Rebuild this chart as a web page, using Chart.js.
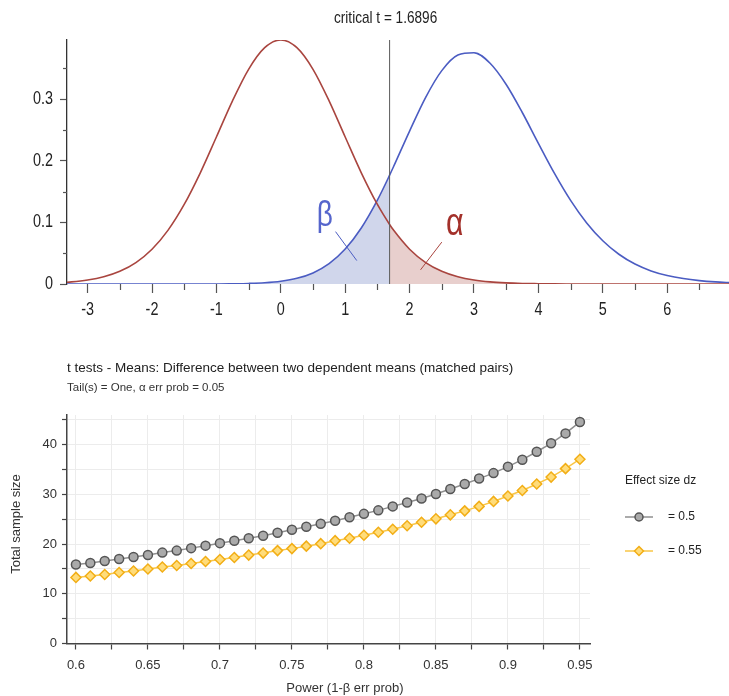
<!DOCTYPE html>
<html lang="en">
<head>
  <meta charset="UTF-8" />
  <title>critical t = 1.6896</title>
  <script src="https://cdn.jsdelivr.net/npm/chart.js"></script>
  <style>
    html, body { margin: 0; padding: 0; background: #fff; overflow: hidden; }
    #wrap { position: relative; width: 729px; height: 696px; }
    #distChart { position: absolute; left: 0; top: 0; }
    #powerChart { position: absolute; left: 0; top: 340px; }
  </style>
</head>
<body>
  <div id="wrap">
    <canvas id="distChart" width="729" height="330"></canvas>
    <canvas id="powerChart" width="729" height="356"></canvas>
  </div>

  <script>
    // ---- top: central / noncentral t densities (df = 35) ----
    const tGrid = [-3.5, -3.25, -3, -2.75, -2.5, -2.25, -2, -1.75, -1.5, -1.25, -1, -0.75, -0.5, -0.25,
      0, 0.25, 0.5, 0.75, 1, 1.25, 1.5, 1.75, 2, 2.25, 2.5, 2.75, 3, 3.25, 3.5, 3.75,
      4, 4.25, 4.5, 4.75, 5, 5.25, 5.5, 5.75, 6, 6.25, 6.5, 6.75, 7];
    const h0Density = [0.0018, 0.0034, 0.0064, 0.0117, 0.0206, 0.0348, 0.0565, 0.0875, 0.1291, 0.1805, 0.2386, 0.2973, 0.3485, 0.3836,
      0.3961, 0.3836, 0.3485, 0.2973, 0.2386, 0.1805, 0.1291, 0.0875, 0.0565, 0.0348, 0.0206, 0.0117, 0.0064, 0.0034, 0.0018, 0.0009,
      0.0005, 0.0002, 0.0001, 0.0001, 0, 0, 0, 0, 0, 0, 0, 0, 0];
    const h1Density = [0, 0, 0, 0, 0, 0, 0, 0, 0, 0.0001, 0.0001, 0.0004, 0.0009, 0.0020,
      0.0044, 0.0092, 0.0180, 0.0330, 0.0567, 0.0909, 0.1361, 0.1903, 0.2483, 0.3031, 0.3464, 0.3717, 0.3755, 0.3583, 0.3239, 0.2784,
      0.2284, 0.1796, 0.1358, 0.0992, 0.0702, 0.0483, 0.0324, 0.0213, 0.0138, 0.0088, 0.0055, 0.0034, 0.0021];
    const critT = 1.6896;
    const h0AtCrit = 0.0966;
    const h1AtCrit = 0.1766;
    const densityMax = 0.3961;

    // ---- bottom: total sample size vs power ----
    const power = [0.60, 0.61, 0.62, 0.63, 0.64, 0.65, 0.66, 0.67, 0.68, 0.69, 0.70, 0.71, 0.72, 0.73, 0.74, 0.75, 0.76, 0.77,
      0.78, 0.79, 0.80, 0.81, 0.82, 0.83, 0.84, 0.85, 0.86, 0.87, 0.88, 0.89, 0.90, 0.91, 0.92, 0.93, 0.94, 0.95];
    const nDz050 = [15.9, 16.2, 16.6, 17.0, 17.4, 17.8, 18.3, 18.7, 19.2, 19.7, 20.2, 20.7, 21.2, 21.7, 22.3, 22.9, 23.5, 24.1,
      24.7, 25.4, 26.1, 26.8, 27.6, 28.4, 29.2, 30.1, 31.1, 32.1, 33.2, 34.3, 35.6, 37.0, 38.6, 40.3, 42.3, 44.6];
    const nDz055 = [13.3, 13.6, 13.9, 14.3, 14.6, 15.0, 15.4, 15.7, 16.1, 16.5, 16.9, 17.3, 17.8, 18.2, 18.7, 19.1, 19.6, 20.1,
      20.7, 21.2, 21.8, 22.4, 23.0, 23.7, 24.4, 25.1, 25.9, 26.7, 27.6, 28.6, 29.7, 30.8, 32.1, 33.5, 35.2, 37.1];
    const effectLabels = ['= 0.5', '= 0.55'];

    const SANS = "'Liberation Sans', Arial, Helvetica, sans-serif";
    const SQUEEZE = 0.8; // the top panel uses a condensed face

    const RED = '#a9453f';
    const BLUE = '#4b5cc2';

    function curvePoints(dens, atCrit) {
      const pts = tGrid.map((t, i) => ({ x: t, y: dens[i] }));
      pts.push({ x: critT, y: atCrit });
      pts.sort((a, b) => a.x - b.x);
      return pts;
    }
    const h0Points = curvePoints(h0Density, h0AtCrit);
    const h1Points = curvePoints(h1Density, h1AtCrit);
    const betaArea = h1Points.filter(p => p.x <= critT);
    const alphaArea = h0Points.filter(p => p.x >= critT);

    function isMult(v, step) {
      const r = v / step;
      return Math.abs(r - Math.round(r)) < 1e-6;
    }
    function fmt(v) {
      return String(parseFloat(v.toFixed(3)));
    }

    // condensed text: squeeze horizontally around the anchor
    function narrowText(ctx, text, x, y, size, align) {
      ctx.save();
      ctx.font = size + 'px ' + SANS;
      ctx.textAlign = align;
      ctx.translate(x, y);
      ctx.scale(SQUEEZE, 1);
      ctx.fillText(text, 0, 0);
      ctx.restore();
    }

    // minor ticks, tick labels and annotations for the top chart
    const distDecor = {
      id: 'distDecor',
      afterDraw(chart) {
        const { ctx, scales: { x, y }, chartArea } = chart;
        ctx.save();
        ctx.strokeStyle = '#555';
        ctx.lineWidth = 1.2;
        for (let v = -3.5; v <= 7; v += 1) {
          if (v < x.min || v > x.max) continue;
          const px = Math.round(x.getPixelForValue(v)) + 0.5;
          ctx.beginPath();
          ctx.moveTo(px, chartArea.bottom);
          ctx.lineTo(px, chartArea.bottom + 6);
          ctx.stroke();
        }
        [0.05, 0.15, 0.25, 0.35].forEach(v => {
          const py = Math.round(y.getPixelForValue(v)) + 0.5;
          ctx.beginPath();
          ctx.moveTo(chartArea.left, py);
          ctx.lineTo(chartArea.left - 4, py);
          ctx.stroke();
        });

        // tick labels
        ctx.fillStyle = '#222';
        ctx.textBaseline = 'middle';
        x.ticks.forEach(t => narrowText(ctx, String(t.value), x.getPixelForValue(t.value), chartArea.bottom + 26, 18, 'center'));
        y.ticks.forEach(t => narrowText(ctx, t.value === 0 ? '0' : t.value.toFixed(1),
          chartArea.left - 14, y.getPixelForValue(t.value), 18, 'right'));

        // title above the critical line
        narrowText(ctx, 'critical t = ' + critT.toFixed(4), x.getPixelForValue(critT) - 4, 18, 17, 'center');

        // beta / alpha labels with leader lines
        ctx.lineWidth = 1;
        ctx.strokeStyle = BLUE;
        ctx.beginPath();
        ctx.moveTo(x.getPixelForValue(0.85), y.getPixelForValue(0.085));
        ctx.lineTo(x.getPixelForValue(1.18), y.getPixelForValue(0.038));
        ctx.stroke();
        ctx.strokeStyle = RED;
        ctx.beginPath();
        ctx.moveTo(x.getPixelForValue(2.50), y.getPixelForValue(0.068));
        ctx.lineTo(x.getPixelForValue(2.17), y.getPixelForValue(0.023));
        ctx.stroke();

        ctx.textBaseline = 'alphabetic';
        ctx.fillStyle = '#5565cc';
        narrowText(ctx, 'β', x.getPixelForValue(0.683), y.getPixelForValue(0.094), 35, 'center');
        ctx.fillStyle = '#a3302a';
        narrowText(ctx, 'α', x.getPixelForValue(2.70), y.getPixelForValue(0.080), 38, 'center');
        ctx.restore();
      }
    };

    new Chart(document.getElementById('distChart'), {
      type: 'line',
      data: {
        datasets: [
          { data: [{ x: critT, y: 0 }, { x: critT, y: densityMax }], borderColor: '#5a5a5a', borderWidth: 1, pointRadius: 0, fill: false },
          { data: h0Points, borderColor: RED, borderWidth: 1.6, pointRadius: 0, fill: false, cubicInterpolationMode: 'monotone' },
          { data: h1Points, borderColor: BLUE, borderWidth: 1.6, pointRadius: 0, fill: false, cubicInterpolationMode: 'monotone' },
          { data: alphaArea, borderWidth: 0, pointRadius: 0, fill: 'origin', backgroundColor: 'rgba(200,140,135,0.42)', cubicInterpolationMode: 'monotone' },
          { data: betaArea, borderWidth: 0, pointRadius: 0, fill: 'origin', backgroundColor: 'rgba(150,165,210,0.45)', cubicInterpolationMode: 'monotone' }
        ]
      },
      options: {
        responsive: false,
        animation: false,
        devicePixelRatio: 1,
        layout: { padding: { top: 40, right: 0, left: 0, bottom: 0 } },
        plugins: { legend: { display: false }, tooltip: { enabled: false }, title: { display: false } },
        scales: {
          x: {
            type: 'linear',
            min: -3.32,
            max: 6.96,
            border: { display: false },
            grid: { drawOnChartArea: false, drawTicks: true, tickLength: 9, tickColor: '#555', tickWidth: 1.2 },
            ticks: { stepSize: 1, includeBounds: false, autoSkip: false, maxRotation: 0, callback: () => '' },
            afterFit: s => { s.height = 46; s.paddingLeft = 0; s.paddingRight = 0; }
          },
          y: {
            min: 0,
            max: densityMax,
            border: { display: true, color: '#333', width: 1.3 },
            grid: { drawOnChartArea: false, drawTicks: true, tickLength: 7, tickColor: '#555', tickWidth: 1.2 },
            ticks: { stepSize: 0.1, includeBounds: false, autoSkip: false, callback: () => '' },
            afterFit: s => { s.width = 67; s.paddingTop = 0; s.paddingBottom = 0; }
          }
        }
      },
      plugins: [distDecor]
    });

    // titles, axis titles and legend for the bottom chart
    function drawMarker(ctx, style, x, y, r) {
      ctx.beginPath();
      if (style === 'circle') {
        ctx.arc(x, y, r, 0, Math.PI * 2);
      } else {
        ctx.moveTo(x, y - r);
        ctx.lineTo(x + r, y);
        ctx.lineTo(x, y + r);
        ctx.lineTo(x - r, y);
        ctx.closePath();
      }
      ctx.fill();
      ctx.stroke();
    }

    const powerDecor = {
      id: 'powerDecor',
      afterDraw(chart) {
        const { ctx, chartArea } = chart;
        ctx.save();
        ctx.fillStyle = '#222';
        ctx.textAlign = 'left';
        ctx.textBaseline = 'middle';
        ctx.font = '13.5px ' + SANS;
        ctx.fillText('t tests - Means: Difference between two dependent means (matched pairs)', chartArea.left, chartArea.top - 47);
        ctx.font = '11.5px ' + SANS;
        ctx.fillStyle = '#333';
        ctx.fillText('Tail(s) = One, α err prob = 0.05', chartArea.left, chartArea.top - 27);

        // axis titles
        ctx.fillStyle = '#333';
        ctx.font = '13px ' + SANS;
        ctx.textAlign = 'center';
        ctx.fillText('Power (1-β err prob)', 345, chartArea.bottom + 45);
        ctx.save();
        ctx.translate(16, chartArea.top + 109);
        ctx.rotate(-Math.PI / 2);
        ctx.fillText('Total sample size', 0, 0);
        ctx.restore();

        // legend
        const lx = chartArea.right + 35;
        ctx.textAlign = 'left';
        ctx.font = '12px ' + SANS;
        ctx.fillStyle = '#222';
        ctx.fillText('Effect size dz', lx, chartArea.top + 66);
        chart.data.datasets.forEach((ds, i) => {
          const ly = chartArea.top + 102 + i * 34;
          ctx.strokeStyle = ds.borderColor;
          ctx.lineWidth = 1.5;
          ctx.beginPath();
          ctx.moveTo(lx, ly);
          ctx.lineTo(lx + 28, ly);
          ctx.stroke();
          ctx.fillStyle = ds.pointBackgroundColor;
          ctx.strokeStyle = ds.pointBorderColor;
          ctx.lineWidth = ds.pointBorderWidth;
          drawMarker(ctx, ds.pointStyle, lx + 14, ly, ds.pointRadius - 0.5);
          ctx.fillStyle = '#222';
          ctx.fillText(ds.label, lx + 43, ly);
        });
        ctx.restore();
      }
    };

    new Chart(document.getElementById('powerChart'), {
      type: 'line',
      data: {
        datasets: [
          {
            label: effectLabels[0],
            data: power.map((p, i) => ({ x: p, y: nDz050[i] })),
            borderColor: '#8f8f8f', borderWidth: 1.5,
            pointStyle: 'circle', pointRadius: 4.5,
            pointBorderColor: '#555', pointBackgroundColor: '#aaaaaa', pointBorderWidth: 1.5
          },
          {
            label: effectLabels[1],
            data: power.map((p, i) => ({ x: p, y: nDz055[i] })),
            borderColor: '#f9c646', borderWidth: 1.5,
            pointStyle: 'rectRot', pointRadius: 5,
            pointBorderColor: '#f2ae16', pointBackgroundColor: '#ffdc7a', pointBorderWidth: 1.5
          }
        ]
      },
      options: {
        responsive: false,
        animation: false,
        devicePixelRatio: 1,
        layout: { padding: { top: 75, right: 139, left: 0, bottom: 0 } },
        plugins: { legend: { display: false }, tooltip: { enabled: false } },
        scales: {
          x: {
            type: 'linear',
            min: 0.5938,
            max: 0.957,
            border: { display: true, color: '#444', width: 1.5 },
            grid: { color: '#ececec', lineWidth: 1, tickColor: '#444', tickLength: 6, tickWidth: 1.2 },
            ticks: {
              stepSize: 0.025, includeBounds: false, autoSkip: false, maxRotation: 0, padding: 8,
              color: '#333', font: { family: SANS, size: 13 },
              callback: v => (isMult(v, 0.05) ? fmt(v) : '')
            },
            afterFit: s => { s.height = 52.5; s.paddingLeft = 0; s.paddingRight = 0; }
          },
          y: {
            min: 0,
            max: 46,
            border: { display: true, color: '#444', width: 1.5 },
            grid: { color: '#ececec', lineWidth: 1, tickColor: '#444', tickLength: 5, tickWidth: 1.2 },
            ticks: {
              stepSize: 5, includeBounds: false, autoSkip: false, padding: 5,
              color: '#333', font: { family: SANS, size: 13 },
              callback: v => (isMult(v, 10) ? fmt(v) : '')
            },
            afterFit: s => { s.width = 67; s.paddingTop = 0; s.paddingBottom = 0; }
          }
        }
      },
      plugins: [powerDecor]
    });
  </script>
</body>
</html>
